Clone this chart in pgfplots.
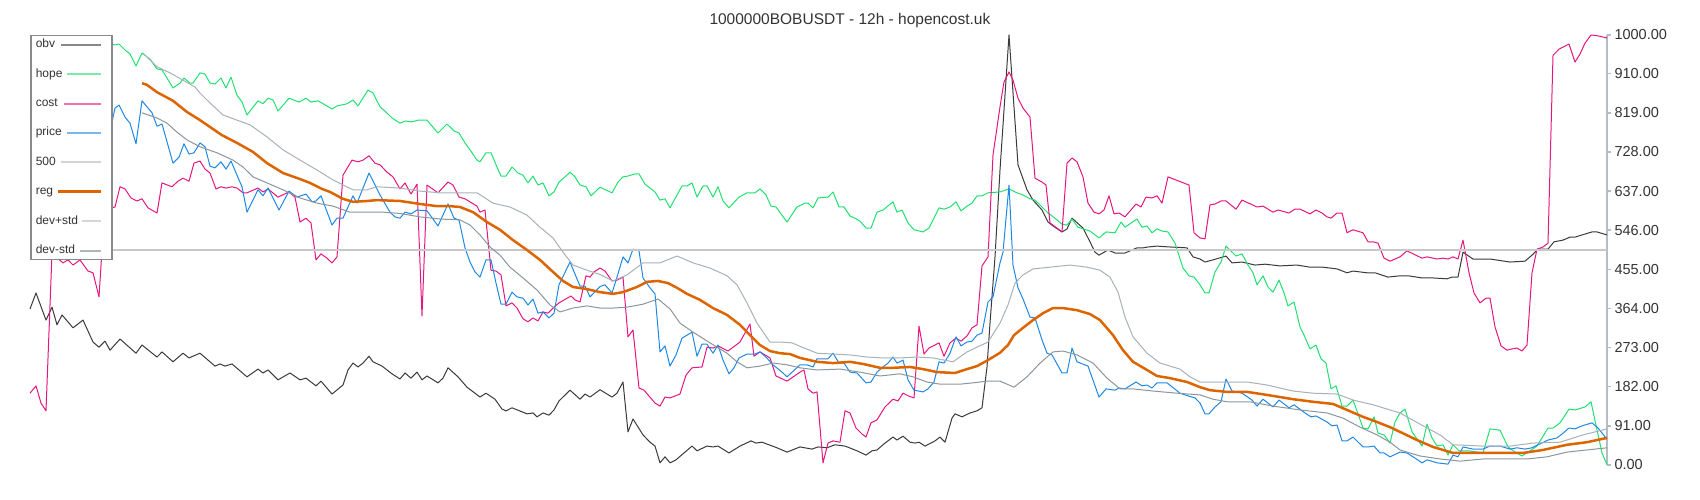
\documentclass[border=0pt]{standalone}
\usepackage{fontspec}
\setmainfont{Liberation Sans}
\usepackage{pgfplots}
\pgfplotsset{compat=1.18}
\definecolor{cobv}{HTML}{3A3A3A}
\definecolor{chope}{HTML}{20E070}
\definecolor{ccost}{HTML}{E6157F}
\definecolor{cprice}{HTML}{1E88E5}
\definecolor{cfive}{HTML}{C8C8C8}
\definecolor{creg}{HTML}{DD6500}
\definecolor{cdevp}{HTML}{A8B0B8}
\definecolor{cdevm}{HTML}{8C959D}
\definecolor{caxis}{HTML}{B4BCC4}
\definecolor{ctext}{HTML}{333333}
\definecolor{cleg}{HTML}{8A8A8A}
\pgfplotsset{
  legimg/.style 2 args={legend image code/.code={\draw[##1,overlay,line width=2pt,opacity=#2] (#1,0pt)--(19pt,0pt); \path[draw=none,fill=none] (0pt,-1pt) rectangle (30pt,1pt);}},
  legimgreg/.style={legend image code/.code={\draw[##1,overlay,line width=2.5pt] (#1,0pt)--(19pt,0pt); \path[draw=none,fill=none] (0pt,-1pt) rectangle (30pt,1pt);}},
}
\begin{document}
\begin{tikzpicture}
\useasboundingbox (0,0) rectangle (1700pt,500pt);
\begin{axis}[
  at={(0pt,35pt)}, anchor=south west,
  scale only axis, width=1607pt, height=430pt,
  xmin=0, xmax=1607, ymin=0, ymax=1000,
  axis x line=none, axis y line=right,
  xtick=\empty,
  ytick={0,91,182,273,364,455,546,637,728,819,910,1000},
  yticklabels={0.00,91.00,182.00,273.00,364.00,455.00,546.00,637.00,728.00,819.00,910.00,1000.00},
  yticklabel style={font=\fontsize{14.5}{16}\selectfont, text=ctext},
  axis line style={draw=caxis, line width=1.5pt, -},
  ytick style={draw=caxis, line width=1.5pt},
  tick align=outside, major tick length=4pt,
  title={1000000BOBUSDT - 12h - hopencost.uk},
  title style={at={(axis description cs:0.5289,1)}, anchor=center, yshift=9pt, font=\fontsize{15.5}{18}\selectfont, text=ctext},
  legend cell align=left, legend plot pos=right,
  legend style={at={(axis description cs:0.01867,1)}, anchor=north west, draw=cleg, line width=1.5pt, fill=white,
    inner xsep=0pt, inner ysep=3pt, row sep=17.4pt, column sep=0pt,
    font=\fontsize{12}{14}\selectfont, text=ctext,
    nodes={inner xsep=5pt, inner ysep=0pt, text height=9pt, text depth=3pt}},
  every axis plot/.append style={line join=round},
]
\addplot[cobv, line width=1pt, legimg={-21pt}{0.6}] coordinates {
(30,363)(36,400)(46,337)(52,367)(57,326)(62,349)(73,319)(83,337)(93,286)(99,274)(105,288)(110,267)(120,293)(136,260)(142,279)(157,251)(162,263)(173,240)(183,260)(189,249)(200,260)(215,230)(220,235)(225,230)(232,235)(247,205)(258,223)(263,214)(268,221)(278,198)(290,214)(300,198)(306,202)(316,184)(321,195)(332,165)(343,186)(348,221)(353,237)(358,228)(363,237)(369,253)(373,240)(382,230)(392,212)(400,200)(405,214)(411,202)(417,216)(422,198)(427,207)(438,191)(443,202)(448,226)(458,205)(467,181)(480,158)(486,167)(495,153)(502,130)(506,126)(512,133)(527,119)(533,121)(537,112)(543,121)(549,116)(554,128)(559,149)(570,174)(580,153)(585,165)(590,158)(600,175)(612,158)(617,167)(623,193)(628,77)(633,107)(643,70)(650,53)(655,44)(660,5)(665,19)(670,5)(676,12)(692,44)(697,33)(707,44)(713,42)(718,44)(729,28)(740,44)(751,56)(756,51)(762,53)(777,40)(787,30)(800,42)(812,37)(818,42)(827,40)(835,47)(845,44)(857,33)(866,23)(872,33)(877,35)(885,51)(893,65)(897,58)(903,67)(910,53)(915,51)(919,53)(925,44)(935,56)(940,65)(945,53)(952,109)(955,119)(962,112)(970,121)(977,126)(982,133)(987,228)(990,330)(995,484)(1000,686)(1009,1000)(1018,698)(1027,640)(1033,616)(1042,593)(1048,565)(1053,556)(1062,542)(1067,549)(1072,574)(1083,551)(1090,519)(1095,495)(1099,488)(1108,500)(1115,493)(1125,493)(1137,505)(1143,505)(1148,507)(1157,509)(1170,507)(1187,505)(1193,484)(1200,479)(1205,472)(1213,477)(1226,486)(1232,470)(1242,472)(1255,465)(1265,467)(1280,463)(1297,465)(1310,460)(1323,460)(1337,456)(1347,447)(1353,451)(1367,447)(1375,447)(1388,437)(1400,440)(1408,440)(1422,435)(1433,435)(1447,433)(1452,437)(1458,437)(1463,495)(1473,479)(1483,479)(1490,479)(1510,472)(1525,474)(1532,488)(1538,502)(1548,502)(1554,519)(1563,523)(1570,530)(1575,530)(1582,535)(1592,542)(1597,542)(1607,535)
};
\addlegendentry{\makebox[41pt][l]{obv}}
\addplot[chope, line width=1pt, legimg={-15pt}{0.6}] coordinates {
(30,950)(45,960)(60,970)(75,975)(90,965)(105,975)(111,978)(115,977)(119,979)(125,965)(130,956)(136,928)(142,958)(150,944)(157,921)(162,919)(173,877)(180,888)(184,900)(190,888)(193,888)(200,912)(205,909)(210,888)(215,886)(221,900)(226,877)(231,902)(237,860)(242,844)(247,814)(258,847)(263,840)(268,853)(273,849)(278,823)(289,853)(299,844)(306,853)(311,844)(318,847)(332,828)(337,835)(347,840)(353,849)(358,835)(368,872)(373,865)(380,833)(385,823)(392,807)(400,795)(405,800)(412,798)(418,802)(427,802)(438,772)(447,793)(454,777)(459,772)(465,749)(470,733)(477,709)(480,705)(486,726)(491,726)(497,693)(501,672)(506,672)(512,693)(518,679)(523,674)(528,656)(533,672)(538,651)(543,656)(549,626)(554,635)(559,658)(565,670)(570,681)(575,670)(580,651)(586,647)(591,626)(600,646)(612,633)(618,658)(623,670)(628,672)(635,677)(639,677)(645,653)(655,635)(660,616)(665,619)(670,598)(682,649)(687,649)(692,656)(697,623)(703,649)(707,649)(713,623)(718,647)(723,614)(729,598)(739,623)(747,633)(755,633)(760,642)(766,628)(771,602)(776,600)(787,565)(797,600)(805,609)(808,609)(813,598)(818,621)(828,623)(833,635)(839,600)(844,600)(850,579)(855,574)(860,567)(866,551)(871,551)(877,588)(883,593)(893,612)(897,588)(902,593)(908,563)(914,547)(923,542)(929,551)(939,598)(944,595)(950,600)(956,612)(961,591)(967,602)(972,609)(977,626)(982,626)(988,633)(1000,635)(1009,642)(1017,633)(1023,628)(1030,619)(1035,616)(1042,600)(1048,586)(1055,574)(1062,560)(1067,558)(1072,572)(1078,553)(1090,544)(1099,528)(1106,542)(1115,540)(1121,565)(1125,553)(1137,572)(1142,553)(1147,556)(1152,540)(1157,549)(1162,544)(1168,542)(1175,516)(1183,458)(1189,440)(1194,437)(1200,419)(1205,400)(1209,400)(1215,449)(1221,472)(1226,509)(1236,486)(1242,491)(1248,465)(1253,447)(1257,419)(1263,440)(1268,414)(1273,402)(1279,430)(1284,400)(1288,370)(1294,379)(1300,321)(1304,302)(1310,270)(1316,279)(1321,247)(1326,237)(1331,177)(1336,184)(1342,137)(1347,137)(1353,151)(1358,119)(1363,86)(1368,84)(1374,112)(1378,74)(1384,70)(1390,51)(1395,100)(1400,121)(1405,130)(1412,77)(1422,44)(1427,95)(1432,63)(1437,44)(1443,47)(1448,23)(1453,47)(1459,33)(1469,33)(1483,28)(1490,84)(1500,81)(1508,42)(1515,30)(1522,21)(1528,30)(1537,44)(1548,86)(1553,86)(1560,98)(1569,130)(1575,128)(1585,135)(1591,147)(1597,81)(1602,28)(1607,0)
};
\addlegendentry{\makebox[41pt][l]{hope}}
\addplot[ccost, line width=1pt, legimg={-18pt}{0.6}] coordinates {
(30,167)(36,184)(41,144)(46,126)(52,493)(58,480)(63,470)(68,477)(73,465)(80,477)(88,451)(93,447)(99,391)(102,500)(106,560)(111,598)(115,600)(120,647)(125,642)(131,621)(137,614)(142,619)(148,598)(157,586)(162,656)(172,647)(178,660)(183,667)(189,660)(194,702)(200,707)(205,688)(210,679)(216,642)(221,647)(226,644)(232,647)(237,644)(243,633)(247,633)(258,644)(263,635)(268,642)(278,623)(289,635)(295,623)(300,565)(306,574)(311,563)(316,477)(321,491)(327,481)(332,470)(337,484)(343,674)(352,709)(358,705)(363,709)(369,719)(375,702)(380,698)(387,681)(393,670)(400,642)(405,656)(411,630)(417,653)(422,347)(427,651)(438,633)(448,658)(453,651)(459,623)(465,619)(472,609)(477,602)(480,588)(485,593)(491,453)(496,451)(501,442)(506,370)(512,377)(517,365)(523,340)(528,333)(533,342)(538,335)(543,356)(548,353)(553,365)(559,377)(571,393)(575,384)(580,379)(586,440)(590,437)(594,449)(600,458)(605,451)(612,428)(617,430)(623,437)(628,298)(633,314)(639,179)(644,174)(655,144)(660,137)(665,158)(670,156)(680,165)(686,209)(692,226)(702,228)(707,274)(713,272)(718,277)(728,265)(740,286)(750,328)(754,253)(760,263)(770,249)(776,207)(787,195)(800,216)(804,221)(808,177)(813,167)(817,170)(823,5)(828,51)(833,56)(840,53)(845,126)(850,121)(856,86)(862,72)(866,65)(871,98)(877,105)(885,135)(893,153)(898,149)(903,167)(909,160)(914,156)(919,323)(924,258)(929,272)(939,284)(944,253)(950,284)(956,295)(961,288)(967,300)(972,319)(977,326)(982,463)(988,484)(993,721)(1000,833)(1004,891)(1009,914)(1013,895)(1018,853)(1023,830)(1030,809)(1035,667)(1042,658)(1046,651)(1050,563)(1062,542)(1067,702)(1072,714)(1077,705)(1083,670)(1088,609)(1094,588)(1099,584)(1104,593)(1109,626)(1114,584)(1119,586)(1125,577)(1136,607)(1141,600)(1146,623)(1152,621)(1157,626)(1162,609)(1168,670)(1189,651)(1194,540)(1200,528)(1205,526)(1210,605)(1215,607)(1221,614)(1226,614)(1236,595)(1242,616)(1257,600)(1263,602)(1273,588)(1278,593)(1289,586)(1295,595)(1300,595)(1310,584)(1316,593)(1322,586)(1327,577)(1331,574)(1337,586)(1342,586)(1347,540)(1353,547)(1363,540)(1368,519)(1373,519)(1378,516)(1384,481)(1390,474)(1400,484)(1407,498)(1422,481)(1427,484)(1437,479)(1443,481)(1448,479)(1453,484)(1458,479)(1463,523)(1469,447)(1474,400)(1480,377)(1486,388)(1490,388)(1495,321)(1501,277)(1507,267)(1512,270)(1517,272)(1522,265)(1527,279)(1532,447)(1537,502)(1543,507)(1548,516)(1553,953)(1559,967)(1569,979)(1575,937)(1580,956)(1585,981)(1591,1000)(1598,998)(1607,993)
};
\addlegendentry{\makebox[41pt][l]{cost}}
\addplot[cprice, line width=1pt, legimg={-15pt}{0.6}] coordinates {
(30,810)(45,830)(60,800)(75,820)(90,790)(105,810)(111,786)(115,830)(119,837)(125,809)(130,795)(136,747)(142,847)(152,819)(157,788)(162,793)(173,702)(179,716)(184,747)(189,723)(194,726)(200,749)(205,740)(210,695)(215,691)(221,705)(226,688)(231,707)(237,674)(242,647)(247,588)(258,640)(263,626)(268,644)(279,593)(289,637)(297,623)(306,630)(312,612)(316,614)(321,626)(332,558)(337,574)(343,574)(353,626)(357,609)(369,679)(380,628)(390,588)(395,577)(400,574)(405,588)(411,584)(417,593)(427,591)(438,556)(448,607)(454,574)(459,570)(465,505)(470,472)(475,449)(480,437)(486,477)(491,477)(496,423)(501,374)(506,374)(512,402)(517,391)(523,388)(528,372)(533,386)(538,353)(543,356)(549,342)(554,353)(559,419)(570,472)(580,416)(585,416)(590,391)(600,415)(605,419)(612,400)(617,437)(623,484)(628,470)(633,502)(639,498)(643,435)(650,412)(655,398)(660,263)(665,277)(670,230)(676,256)(682,295)(692,309)(697,253)(702,281)(707,281)(713,260)(718,279)(723,244)(729,212)(734,226)(739,249)(747,258)(755,258)(760,263)(766,251)(773,233)(782,216)(787,205)(800,233)(807,233)(813,228)(817,247)(828,247)(833,260)(839,237)(844,237)(850,216)(857,214)(866,191)(871,193)(877,216)(883,228)(888,237)(893,251)(897,237)(903,244)(908,198)(914,174)(923,170)(928,177)(934,193)(939,240)(944,237)(950,260)(956,298)(961,277)(967,286)(972,288)(977,302)(982,307)(988,379)(993,391)(1000,470)(1003,495)(1009,651)(1013,465)(1018,412)(1023,386)(1030,344)(1035,342)(1042,291)(1047,260)(1052,256)(1062,214)(1067,214)(1072,272)(1077,240)(1088,230)(1099,158)(1106,177)(1115,174)(1119,179)(1125,177)(1136,193)(1142,184)(1147,186)(1152,179)(1157,191)(1167,191)(1180,167)(1189,160)(1195,156)(1200,144)(1205,119)(1209,119)(1215,135)(1221,147)(1226,200)(1232,172)(1242,167)(1252,151)(1257,137)(1263,153)(1273,135)(1279,151)(1289,133)(1294,140)(1305,121)(1311,112)(1316,114)(1327,100)(1332,91)(1337,93)(1342,56)(1347,56)(1353,65)(1363,42)(1368,42)(1374,44)(1380,28)(1384,28)(1390,19)(1400,30)(1407,28)(1415,16)(1422,5)(1427,12)(1437,5)(1448,2)(1453,23)(1458,19)(1463,42)(1473,37)(1483,37)(1490,44)(1500,44)(1510,37)(1517,40)(1525,37)(1532,40)(1538,47)(1548,58)(1557,63)(1563,74)(1569,86)(1575,84)(1582,91)(1592,98)(1598,86)(1607,60)
};
\addlegendentry{\makebox[41pt][l]{price}}
\addplot[cfive, line width=1.5pt, legimg={-21pt}{0.8}] coordinates {(30,500)(1607,500)};
\addlegendentry{\makebox[41pt][l]{500}}
\addplot[creg, line width=2.5pt, legimgreg=-24pt] coordinates {
(142,888)(147,884)(157,867)(173,847)(187,821)(200,802)(222,767)(237,749)(253,728)(267,702)(283,679)(300,665)(310,656)(322,642)(330,635)(343,619)(353,612)(367,614)(377,616)(400,614)(420,607)(437,602)(450,602)(460,600)(473,588)(487,565)(500,547)(513,523)(527,500)(540,477)(553,449)(563,428)(573,414)(587,409)(600,402)(613,398)(623,402)(637,414)(647,426)(658,428)(668,423)(677,412)(687,398)(700,384)(713,365)(727,349)(740,326)(750,302)(760,279)(770,265)(780,260)(790,258)(800,249)(817,240)(833,237)(850,240)(863,235)(880,226)(893,226)(910,228)(923,223)(937,216)(955,214)(967,223)(977,230)(988,244)(1000,261)(1008,279)(1014,302)(1023,319)(1033,337)(1043,353)(1053,365)(1063,365)(1077,360)(1090,351)(1100,337)(1113,302)(1123,267)(1133,240)(1147,221)(1157,207)(1170,202)(1187,193)(1200,181)(1210,174)(1227,170)(1247,170)(1267,163)(1293,153)(1313,147)(1333,142)(1347,128)(1363,112)(1377,100)(1390,88)(1400,77)(1417,58)(1433,42)(1453,28)(1467,28)(1493,28)(1523,28)(1543,35)(1567,47)(1587,53)(1607,63)
};
\addlegendentry{\makebox[41pt][l]{reg}}
\addplot[cdevp, line width=1pt, legimg={0pt}{0.5}] coordinates {
(143,958)(157,926)(170,912)(183,895)(195,879)(200,865)(210,842)(223,814)(237,802)(250,791)(267,763)(283,733)(300,709)(317,686)(333,663)(353,640)(367,640)(377,647)(400,644)(420,637)(440,633)(460,633)(477,633)(493,609)(510,600)(527,581)(540,553)(553,528)(563,495)(573,465)(587,453)(600,443)(613,428)(627,442)(643,470)(660,470)(677,486)(693,470)(710,458)(727,440)(737,419)(747,377)(757,330)(770,286)(780,286)(792,284)(800,276)(817,260)(833,258)(850,256)(867,251)(883,249)(900,249)(917,251)(933,249)(953,240)(967,263)(977,274)(988,286)(1000,330)(1008,372)(1015,423)(1023,442)(1033,456)(1050,460)(1070,465)(1087,460)(1100,453)(1110,437)(1118,402)(1125,344)(1133,298)(1147,260)(1160,237)(1180,223)(1190,205)(1200,193)(1213,193)(1247,193)(1267,186)(1293,172)(1313,167)(1337,165)(1353,151)(1373,140)(1390,128)(1400,121)(1420,95)(1440,70)(1453,47)(1483,44)(1510,44)(1533,51)(1560,53)(1583,70)(1607,84)
};
\addlegendentry{\makebox[41pt][l]{dev+std}}
\addplot[cdevm, line width=1pt, legimg={-2pt}{0.7}] coordinates {
(142,819)(157,807)(167,795)(177,774)(187,756)(200,740)(217,726)(233,709)(243,693)(253,670)(267,656)(283,640)(300,621)(317,609)(333,602)(350,588)(367,588)(383,588)(400,585)(420,577)(440,572)(460,570)(470,558)(480,535)(490,507)(500,488)(510,460)(523,435)(537,407)(550,372)(560,356)(573,365)(587,370)(600,365)(613,365)(627,367)(643,374)(658,386)(670,363)(680,330)(693,309)(710,284)(727,260)(737,240)(747,226)(760,230)(773,237)(787,233)(800,226)(817,221)(840,223)(860,216)(880,207)(900,212)(913,205)(927,193)(940,188)(960,188)(973,191)(987,195)(1000,195)(1014,181)(1027,205)(1040,237)(1053,263)(1063,265)(1077,256)(1093,237)(1107,202)(1120,177)(1133,177)(1153,172)(1177,167)(1200,163)(1213,153)(1227,147)(1250,147)(1273,137)(1300,128)(1327,121)(1343,109)(1360,88)(1377,70)(1390,53)(1400,35)(1420,21)(1440,14)(1460,9)(1483,14)(1527,14)(1547,19)(1567,30)(1587,35)(1607,40)
};
\addlegendentry{\makebox[41pt][l]{dev-std}}
\end{axis}
\end{tikzpicture}
\end{document}
